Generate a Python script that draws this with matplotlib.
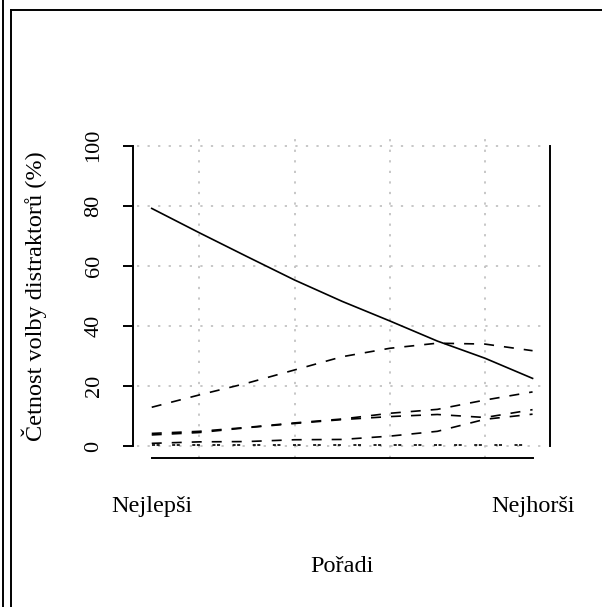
import matplotlib
matplotlib.use("Agg")
import matplotlib.pyplot as plt
from matplotlib.lines import Line2D

# groups from best to worst (9 score groups)
groups = [1, 2, 3, 4, 5, 6, 7, 8, 9]

# share of each option chosen in each group (%)
correct = [79.1, 71.0, 63.1, 55.3, 48.2, 41.7, 35.0, 29.3, 22.6]
distr_1 = [13.0, 17.1, 21.0, 25.4, 29.8, 32.6, 34.3, 34.0, 31.8]
distr_2 = [4.3, 5.0, 6.3, 7.8, 9.1, 11.0, 12.3, 15.4, 18.1]
distr_3 = [3.8, 4.6, 6.2, 7.6, 8.9, 9.9, 10.6, 9.6, 12.2]
distr_4 = [1.0, 1.5, 1.6, 2.2, 2.3, 3.4, 5.0, 9.0, 10.7]
distr_5 = [0.3, 0.3, 0.3, 0.3, 0.3, 0.3, 0.3, 0.3, 0.3]

y_ticks = [0, 20, 40, 60, 80, 100]
x_grid = [2, 4, 6, 8]
end_labels = ["Nejlepši", "Nejhorši"]

plt.rcParams["font.family"] = ["Liberation Serif", "DejaVu Serif"]
plt.rcParams["lines.scale_dashes"] = False

W, H = 602, 607
fig = plt.figure(figsize=(W / 100, H / 100), dpi=100)
ax = fig.add_axes([136.5 / W, 148.6 / H, 411.3 / W, 324.9 / H])

ax.plot(groups, correct, color="black", lw=1.2)
dash = (0, (7.2, 7.2))
for d in [distr_1, distr_2, distr_3, distr_4]:
    ax.plot(groups, d, color="black", lw=1.2, linestyle=dash)
ax.plot(groups, distr_5, color="black", lw=1.2, linestyle=(0, (2.2, 1.1, 2.2, 9.0)))

ax.set_xlim(0.68, 9.32)
ax.set_ylim(-4, 104)

# axes like base R: left axis with ticks, plain line on right, line at the bottom
ax.spines["top"].set_visible(False)
for s in ["left", "right", "bottom"]:
    ax.spines[s].set_linewidth(1.4)
ax.spines["left"].set_bounds(0, 100)
ax.spines["left"].set_position(("outward", 2.5))
ax.spines["right"].set_bounds(0, 100)
ax.spines["right"].set_position(("outward", 1.5))
ax.spines["bottom"].set_bounds(groups[0], groups[-1])

ax.set_yticks(y_ticks)
ax.set_yticklabels([str(v) for v in y_ticks], rotation=90, va="center")
ax.tick_params(axis="y", direction="out", length=7.2, width=1.4, pad=14,
               labelsize=16, right=False)

ax.set_xticks([groups[0], groups[-1]])
ax.set_xticklabels(end_labels)
ax.set_xticks(x_grid, minor=True)
ax.tick_params(axis="x", which="both", length=0, pad=27, labelsize=17.5)

grid_style = dict(color="#bdbdbd", lw=1.2, linestyle=(0, (1.6, 6.0)))
ax.grid(which="minor", axis="x", **grid_style)
ax.grid(which="major", axis="y", **grid_style)
ax.grid(which="major", axis="x", visible=False)

ax.set_ylabel("Četnost volby distraktorů (%)", fontsize=17.5, labelpad=27)
ax.set_xlabel("Pořadi", fontsize=17.5, labelpad=28)

# frame lines around the picture
def px_line(x0, y0, x1, y1):
    fig.add_artist(Line2D([x0 / W, x1 / W], [1 - y0 / H, 1 - y1 / H],
                          transform=fig.transFigure, color="black", lw=1.4))

px_line(2.5, 0, 2.5, H)
px_line(11, 10, 11, H)
px_line(11, 10, W, 10)

fig.savefig("out.png", dpi=100)
